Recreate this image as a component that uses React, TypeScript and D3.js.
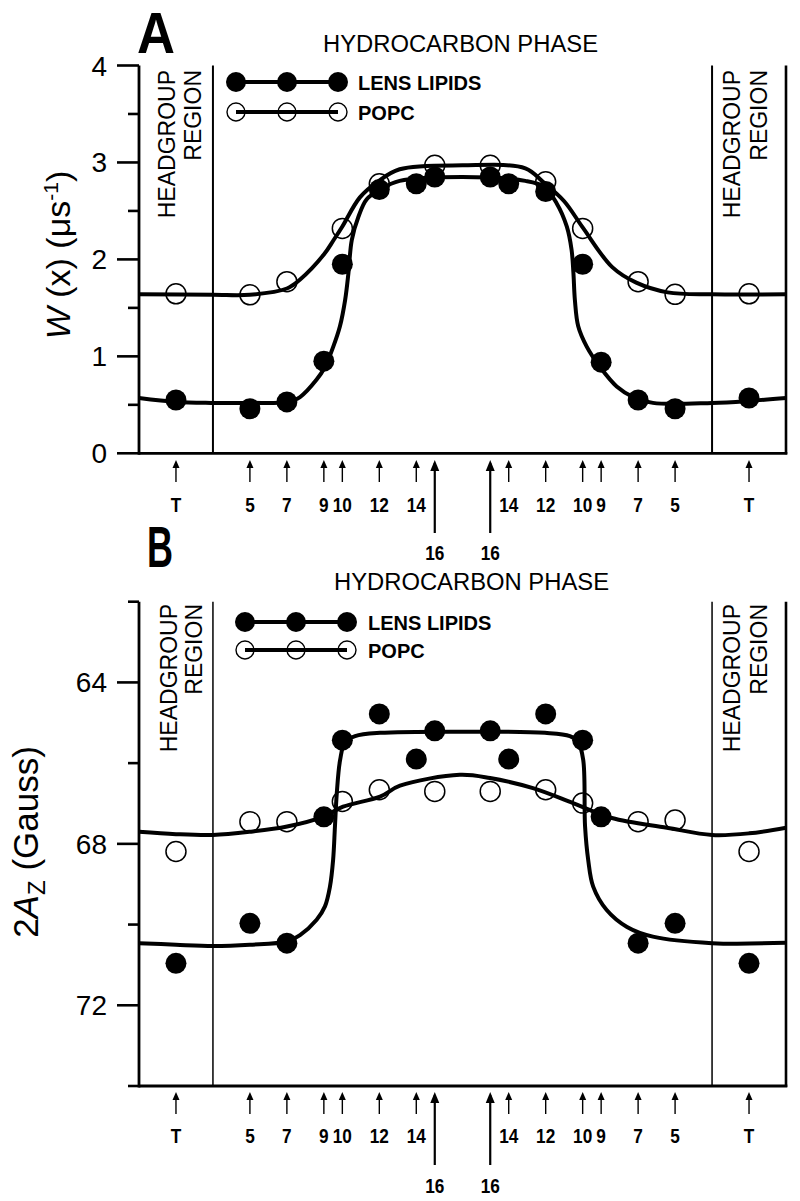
import React from "react";
import * as d3 from "d3";

// ---------- shared x positions (depth units, centre = 0) ----------
const positions = [-15.5, -11.5, -9.5, -7.5, -6.5, -4.5, -2.5, -1.5, 1.5, 2.5, 4.5, 6.5, 7.5, 9.5, 11.5, 15.5];
const labels = ["T", "5", "7", "9", "10", "12", "14", "16", "16", "14", "12", "10", "9", "7", "5", "T"];
const regionBounds = [-13.5, 13.5];

// ---------- Panel A: W(x) ----------
const lensA = [0.55, 0.46, 0.53, 0.95, 1.95, 2.72, 2.78, 2.85, 2.85, 2.78, 2.7, 1.95, 0.94, 0.55, 0.46, 0.57];
const popcPosA = [-15.5, -11.5, -9.5, -6.5, -4.5, -1.5, 1.5, 4.5, 6.5, 9.5, 11.5, 15.5];
const popcA = [1.645, 1.635, 1.77, 2.32, 2.78, 2.97, 2.97, 2.8, 2.32, 1.77, 1.64, 1.645];
const fitLensAu = [-17.5, -15.5, -13.6, -11.5, -9.5, -8.79, -7.89, -7.44, -6.99, -6.63, -6.35, -6.17, -5.99, -5.63, -5.18, -4.46, -3.4, 0, 3.4, 4.4, 5.09, 5.64, 5.9, 6.0, 6.08, 6.26, 6.72, 7.44, 8.34, 9.24, 10.3, 13.5, 15.5, 17.5];
const fitLensAv = [0.57, 0.53, 0.52, 0.52, 0.53, 0.58, 0.76, 0.89, 1.1, 1.31, 1.58, 1.86, 2.2, 2.44, 2.62, 2.72, 2.81, 2.85, 2.81, 2.75, 2.58, 2.34, 2.1, 1.86, 1.58, 1.31, 1.1, 0.89, 0.69, 0.58, 0.52, 0.52, 0.54, 0.57];
const fitPopcAu = [-17.5, -13.5, -11.5, -9.5, -8.8, -7.5, -6.97, -6.5, -5.55, -4.6, -3.4, 0, 3.4, 4.35, 5.5, 6.5, 8.1, 9.4, 11.1, 13.5, 17.5];
const fitPopcAv = [1.64, 1.635, 1.635, 1.7, 1.79, 2.05, 2.2, 2.34, 2.64, 2.8, 2.93, 2.97, 2.94, 2.8, 2.6, 2.33, 1.92, 1.76, 1.66, 1.64, 1.64];
const yTicksMajorA = [0, 1, 2, 3, 4];
const yTicksMinorA = [0.5, 1.5, 2.5, 3.5];

// ---------- Panel B: 2Az ----------
const lensB = [70.96, 69.97, 70.46, 67.33, 65.43, 64.78, 65.9, 65.2, 65.2, 65.9, 64.78, 65.43, 67.33, 70.46, 69.97, 70.96];
const popcPosB = [-15.5, -11.5, -9.5, -6.5, -4.5, -1.5, 1.5, 4.5, 6.5, 9.5, 11.5, 15.5];
const popcB = [68.19, 67.45, 67.45, 66.95, 66.66, 66.7, 66.7, 66.66, 66.99, 67.45, 67.41, 68.19];
const fitLensBu = [-17.5, -15.5, -13.5, -11.5, -9.5, -8.79, -7.89, -7.44, -7.17, -7.0, -6.9, -6.8, -6.62, -6.35, -5.81, -4.46, 0, 4.46, 5.81, 6.25, 6.53, 6.63, 6.8, 7.07, 7.8, 8.9, 10.3, 13.5, 17.5];
const fitLensBv = [70.46, 70.5, 70.53, 70.5, 70.42, 70.26, 69.88, 69.55, 69.06, 68.4, 67.57, 66.74, 65.92, 65.47, 65.33, 65.25, 65.22, 65.25, 65.33, 65.47, 65.92, 67.57, 68.4, 69.06, 69.64, 70.06, 70.3, 70.46, 70.45];
const fitPopcBu = [-17.5, -15.5, -13.5, -11.5, -9.49, -7.55, -6.46, -4.46, -3.38, -0.14, 1.49, 3.81, 5.98, 8.08, 11.06, 13.5, 15.5, 17.5];
const fitPopcBv = [67.7, 67.76, 67.78, 67.7, 67.57, 67.33, 67.08, 66.83, 66.56, 66.29, 66.37, 66.62, 66.99, 67.36, 67.6, 67.78, 67.74, 67.6];
const yTicksMajorB = [64, 68, 72];
const yTicksMinorB = [62, 66, 70, 74];

const FONT = "'Liberation Sans', Arial, Helvetica, sans-serif";

const xScale = d3.scaleLinear().domain([-17.5, 17.5]).range([139, 786]);

type PanelCfg = {
  y: d3.ScaleLinear<number, number>;
  top: number;
  bottom: number;
  majors: number[];
  minors: number[];
  lens: number[];
  popcPos: number[];
  popc: number[];
  fitLensU: number[];
  fitLensV: number[];
  fitPopcU: number[];
  fitPopcV: number[];
  regionWidth: number;
  headX: [number, number, number, number];
  headTop: number;
  arrowTip: number;
  labelY: number;
  label16Y: number;
  legendX: number;
  legendY: [number, number];
  legendTextX: number;
};

function Arrow({ x, tip, tail, long }: { x: number; tip: number; tail: number; long: boolean }) {
  const hw = long ? 4.5 : 3.5;
  const hh = long ? 11 : 8;
  return (
    <g>
      <line x1={x} x2={x} y1={tip + 3} y2={tail} stroke="#000" strokeWidth={long ? 2.2 : 1.4} />
      <polygon points={`${x},${tip} ${x - hw},${tip + hh} ${x + hw},${tip + hh}`} fill="#000" />
    </g>
  );
}

function Panel({ c }: { c: PanelCfg }) {
  const { y } = c;
  const line = d3
    .line<[number, number]>()
    .x((d) => xScale(d[0]))
    .y((d) => y(d[1]))
    .curve(d3.curveCatmullRom.alpha(0.5));
  const lensPath = line(c.fitLensU.map((u, i) => [u, c.fitLensV[i]] as [number, number])) || "";
  const popcPath = line(c.fitPopcU.map((u, i) => [u, c.fitPopcV[i]] as [number, number])) || "";
  const x0 = xScale.range()[0];
  const x1 = xScale.range()[1];
  const legendXs = [c.legendX, c.legendX + 51, c.legendX + 102];
  return (
    <g>
      {regionBounds.map((b, i) => (
        <line key={i} x1={xScale(b)} x2={xScale(b)} y1={c.top} y2={c.bottom} stroke="#000" strokeWidth={c.regionWidth} />
      ))}
      <line x1={x1} x2={x1} y1={c.top} y2={c.bottom + 1} stroke="#000" strokeWidth={2.6} />
      <line x1={x0} x2={x0} y1={c.top} y2={c.bottom + 1.4} stroke="#000" strokeWidth={2.8} />
      <line x1={x0} x2={x1 + 1.3} y1={c.bottom} y2={c.bottom} stroke="#000" strokeWidth={2.8} />
      {c.majors.map((t) => (
        <g key={"M" + t}>
          <line x1={x0 - 22} x2={x0} y1={y(t)} y2={y(t)} stroke="#000" strokeWidth={2.6} />
          <text x={x0 - 32} y={y(t) + 10} textAnchor="end" fontSize={28} fontFamily={FONT}>
            {t}
          </text>
        </g>
      ))}
      {c.minors.map((t) => (
        <line key={"m" + t} x1={x0 - 11} x2={x0} y1={y(t)} y2={y(t)} stroke="#000" strokeWidth={2.6} />
      ))}
      {[
        [c.headX[0], c.headX[1]],
        [c.headX[2], c.headX[3]],
      ].map((pair, i) => (
        <g key={"hg" + i} fontFamily={FONT} fontSize={23}>
          <text transform={`translate(${pair[0]},${c.headTop}) rotate(-90)`} textAnchor="end">
            HEADGROUP
          </text>
          <text transform={`translate(${pair[1]},${c.headTop}) rotate(-90)`} textAnchor="end">
            REGION
          </text>
        </g>
      ))}
      <path d={popcPath} fill="none" stroke="#000" strokeWidth={4} />
      <path d={lensPath} fill="none" stroke="#000" strokeWidth={4} />
      {c.popc.map((v, i) => (
        <circle key={"o" + i} cx={xScale(c.popcPos[i])} cy={y(v)} r={10} fill="none" stroke="#000" strokeWidth={1.5} />
      ))}
      {c.lens.map((v, i) => (
        <circle key={"f" + i} cx={xScale(positions[i])} cy={y(v)} r={10.5} fill="#000" />
      ))}
      <line x1={legendXs[0]} x2={legendXs[2]} y1={c.legendY[0]} y2={c.legendY[0]} stroke="#000" strokeWidth={4} />
      {legendXs.map((lx, i) => (
        <circle key={"lf" + i} cx={lx} cy={c.legendY[0]} r={10} fill="#000" />
      ))}
      <line x1={legendXs[0]} x2={legendXs[2]} y1={c.legendY[1]} y2={c.legendY[1]} stroke="#000" strokeWidth={4} />
      {legendXs.map((lx, i) => (
        <circle key={"lo" + i} cx={lx} cy={c.legendY[1]} r={9} fill="none" stroke="#000" strokeWidth={1.4} />
      ))}
      <text x={c.legendTextX} y={c.legendY[0] + 8} fontFamily={FONT} fontWeight="bold" fontSize={20}>
        LENS LIPIDS
      </text>
      <text x={c.legendTextX} y={c.legendY[1] + 8} fontFamily={FONT} fontWeight="bold" fontSize={20}>
        POPC
      </text>
      {positions.map((p, i) => {
        const long = labels[i] === "16";
        const x = xScale(p);
        const ty = long ? c.label16Y : c.labelY;
        return (
          <g key={"a" + i}>
            <Arrow x={x} tip={c.arrowTip} tail={long ? c.arrowTip + 73 : c.arrowTip + 22} long={long} />
            <text
              transform={`translate(${x},${ty}) scale(0.82,1)`}
              textAnchor="middle"
              fontFamily={FONT}
              fontWeight="bold"
              fontSize={21}
            >
              {labels[i]}
            </text>
          </g>
        );
      })}
    </g>
  );
}

export default function App() {
  const yA = d3.scaleLinear().domain([0, 4]).range([453.3, 65.5]);
  const yB = d3.scaleLinear().domain([62, 74]).range([601.7, 1086]);

  const cfgA: PanelCfg = {
    y: yA,
    top: 65.5,
    bottom: 453.3,
    majors: yTicksMajorA,
    minors: yTicksMinorA,
    lens: lensA,
    popcPos: popcPosA,
    popc: popcA,
    fitLensU: fitLensAu,
    fitLensV: fitLensAv,
    fitPopcU: fitPopcAu,
    fitPopcV: fitPopcAv,
    regionWidth: 2,
    headX: [175, 201, 740, 767],
    headTop: 70,
    arrowTip: 460,
    labelY: 512,
    label16Y: 560,
    legendX: 236,
    legendY: [82, 112],
    legendTextX: 358,
  };
  const cfgB: PanelCfg = {
    y: yB,
    top: 601.7,
    bottom: 1086,
    majors: yTicksMajorB,
    minors: yTicksMinorB,
    lens: lensB,
    popcPos: popcPosB,
    popc: popcB,
    fitLensU: fitLensBu,
    fitLensV: fitLensBv,
    fitPopcU: fitPopcBu,
    fitPopcV: fitPopcBv,
    regionWidth: 1.5,
    headX: [177, 202, 740, 767],
    headTop: 604,
    arrowTip: 1092,
    labelY: 1143,
    label16Y: 1193,
    legendX: 245,
    legendY: [622, 650],
    legendTextX: 368,
  };

  return (
    <svg
      width={800}
      height={1201}
      viewBox="0 0 800 1201"
      style={{ position: "absolute", left: 0, top: 0, background: "#fff" }}
    >
      <rect x={0} y={0} width={800} height={1201} fill="#fff" />
      <text x={137} y={53} fontFamily={FONT} fontWeight="bold" fontSize={57} textLength={38} lengthAdjust="spacingAndGlyphs">
        A
      </text>
      <text x={323} y={52} fontFamily={FONT} fontSize={23} textLength={275} lengthAdjust="spacingAndGlyphs">
        HYDROCARBON PHASE
      </text>
      <text x={147} y={567} fontFamily={FONT} fontWeight="bold" fontSize={58} textLength={26} lengthAdjust="spacingAndGlyphs">
        B
      </text>
      <text x={334} y={590} fontFamily={FONT} fontSize={23} textLength={275} lengthAdjust="spacingAndGlyphs">
        HYDROCARBON PHASE
      </text>

      <text transform="translate(70,255) rotate(-90)" textAnchor="middle" fontFamily={FONT} fontSize={34}>
        <tspan fontStyle="italic">W</tspan>
        <tspan> (x) (μs</tspan>
        <tspan dy={-12} fontSize={21}>-1</tspan>
        <tspan dy={12}>)</tspan>
      </text>
      <text transform="translate(38,842) rotate(-90)" textAnchor="middle" fontFamily={FONT} fontSize={35}>
        <tspan>2</tspan>
        <tspan fontStyle="italic">A</tspan>
        <tspan dy={7} fontSize={24}>Z</tspan>
        <tspan dy={-7}> (Gauss)</tspan>
      </text>

      <Panel c={cfgA} />
      <Panel c={cfgB} />
    </svg>
  );
}
